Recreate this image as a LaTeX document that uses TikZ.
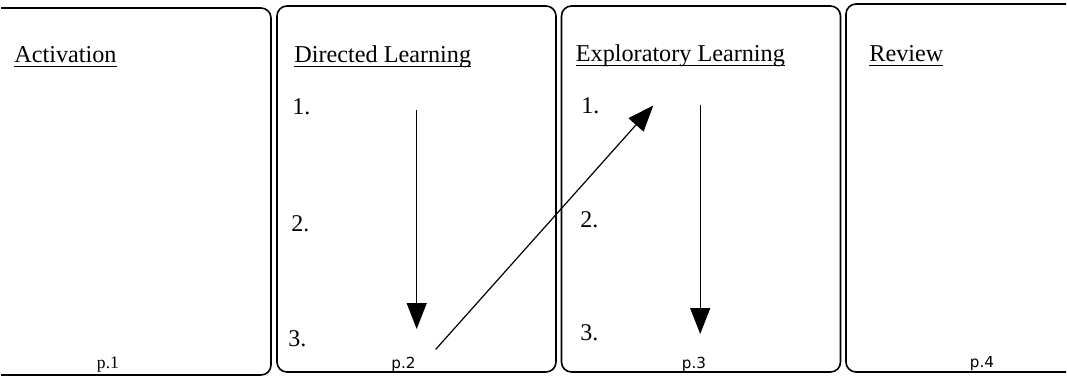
\documentclass[tikz,border=0pt]{standalone}
\usepackage{fontspec}
\setmainfont{Liberation Serif}
\newfontfamily\pagesans{DejaVu Sans}
\usepackage{tikz}
\usetikzlibrary{arrows.meta, positioning}

% underline that sits just below the baseline
\newcommand{\ultitle}[1]{\setbox0\hbox{#1}\rlap{\rule[-2.3pt]{\wd0}{0.5pt}}\box0}

\begin{document}
\begin{tikzpicture}[
  x=0.5pt, y=-0.5pt,
  panel/.style={draw, line width=0.8pt, rounded corners=5pt, inner sep=0pt,
                minimum width=139.5pt, minimum height=183pt},
  ttl/.style={anchor=base west, inner sep=0pt,
              font=\fontsize{12.1}{14}\selectfont},
  num/.style={anchor=base west, inner sep=0pt,
              font=\fontsize{12}{14}\selectfont},
  pg/.style={anchor=base, inner sep=0pt, font=\fontsize{7.6}{9}\selectfont\pagesans},
  arr/.style={-{Triangle[length=13pt, width=10pt]}, line width=0.6pt},
]
\useasboundingbox (0,0) rectangle (1067,376);
\clip (1,0) rectangle (1066,376);

% Panels
\node[panel, minimum width=235.5pt, minimum height=183.5pt] (act) at (35.5,191.5) {};
\node[panel] (dir) at (416.5,189) {};
\node[panel] (exp) at (701,189) {};
\node[panel, minimum width=180pt, minimum height=184pt] (rev) at (1026,188) {};

% Titles
\node[ttl] (actT) at (14,62.5)  {\ultitle{Activation}};
\node[ttl] (dirT) at (294,62)   {\ultitle{Directed Learning}};
\node[ttl] (expT) at (575.5,61) {\ultitle{Exploratory Learning}};
\node[ttl] (revT) at (869,61)   {\ultitle{Review}};

% Steps
\node[num] (dir1) at (292,114.7) {1.};
\node[num] (dir2) at (291,231.4) {2.};
\node[num] (dir3) at (288,346)   {3.};
\node[num] (exp1) at (581,113)   {1.};
\node[num] (exp2) at (580,227.7) {2.};
\node[num] (exp3) at (580,340)   {3.};

% Page numbers
\node[anchor=base, inner sep=0pt, font=\fontsize{8.8}{10}\selectfont] (pg1) at (108,368) {p.1};
\node[pg] (pg2) at (403.5,368) {p.2};
\node[pg] (pg3) at (694,368)   {p.3};
\node[pg] (pg4) at (982,367)   {p.4};

% Arrows
\coordinate (dirTop) at (416.7,110);
\coordinate (dirEnd) at (416.7,329);
\coordinate (crossA) at (435.6,349.5);
\coordinate (crossB) at (653.3,105.5);
\coordinate (expTop) at (700.2,104.5);
\coordinate (expEnd) at (700.2,334);

\draw[arr] (dirTop) -- (dirEnd);
\draw[arr] (crossA) -- (crossB);
\draw[arr] (expTop) -- (expEnd);
\end{tikzpicture}
\end{document}
